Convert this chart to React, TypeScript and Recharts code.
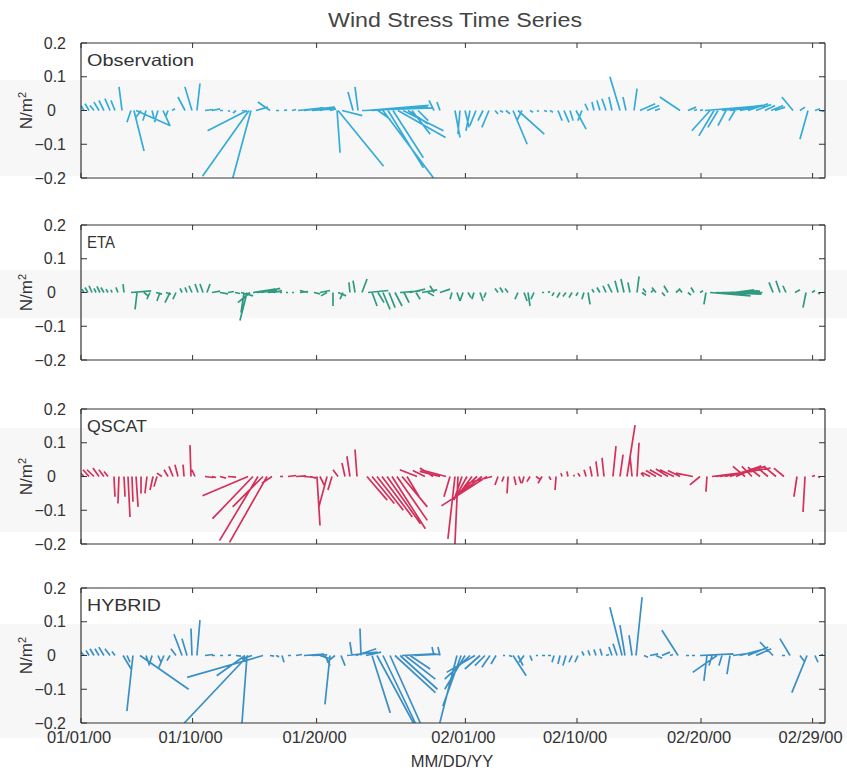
import React from 'react';
import { LineChart, Line, XAxis, YAxis } from 'recharts';

// ---------- data ----------
// x ticks (days since 01/01/00) and their labels
const tickDays = [0, 9, 19, 31, 40, 50, 59];
const tickLabels = ['01/01/00', '01/10/00', '01/20/00', '02/01/00', '02/10/00', '02/20/00', '02/29/00'];
const yTicks = [-0.2, -0.1, 0, 0.1, 0.2];
const panelNames = ['Observation', 'ETA', 'QSCAT', 'HYBRID'];

// each stick: [day, u (N/m^2), v (N/m^2)]
type Stick = [number, number, number];

const observation: Stick[] = [
  [0.24, -0.009, 0.015], [0.65, -0.012, 0.02], [1.05, -0.012, 0.015], [1.45, -0.015, 0.025], [1.85, -0.015, 0.03],
  [2.34, -0.015, 0.035], [2.74, -0.012, 0.03], [3.31, -0.009, 0.07], [4.03, -0.012, -0.035], [4.27, 0.03, -0.12],
  [4.44, 0.102, -0.045], [4.84, -0.015, -0.02], [5.24, -0.009, -0.03], [5.73, 0.009, -0.035], [6.21, -0.009, -0.03],
  [6.61, 0.021, -0.045], [7.02, -0.006, -0.015], [7.34, 0.009, 0.005], [8.39, -0.021, 0.04], [8.95, -0.021, 0.07],
  [9.35, 0.009, 0.08], [10.0, 0.024, 0.003], [10.56, 0.024, 0.005], [11.21, 0.009, 0], [11.85, 0.006, -0.003],
  [12.5, -0.009, -0.008], [12.98, 0.018, -0.005], [13.39, -0.117, -0.06], [13.55, -0.138, -0.195], [13.71, -0.054, -0.2],
  [14.11, 0.036, 0.01], [15.24, -0.036, 0.025], [15.73, 0.009, 0], [16.37, 0.009, 0.002], [17.02, 0.012, 0.003],
  [17.5, 0.075, 0.008], [17.98, 0.09, 0.01], [18.63, 0.066, 0.005], [19.27, 0.045, 0.01], [20.08, 0.018, 0.005],
  [20.65, 0.009, -0.125], [20.73, 0.135, -0.165], [21.05, 0.06, -0.015], [21.94, -0.015, 0.055], [22.34, -0.009, 0.07],
  [22.66, 0.21, 0.008], [22.98, 0.186, 0.015], [23.47, 0.165, 0.012], [23.95, 0.036, -0.025], [24.35, 0.15, -0.2],
  [24.76, 0.105, -0.17], [25.16, 0.09, -0.14], [25.56, 0.141, -0.08], [25.97, 0.12, -0.06], [26.37, 0.06, -0.04],
  [26.69, 0.054, -0.07], [27.18, 0.03, -0.03], [28.47, -0.015, 0.03], [28.95, -0.009, 0.025], [30.16, 0.015, -0.08],
  [30.56, -0.006, -0.07], [30.97, 0.012, -0.05], [31.37, -0.012, -0.06], [31.85, -0.018, -0.045], [32.42, -0.015, -0.03],
  [32.9, -0.021, -0.05], [33.39, 0.009, -0.01], [33.79, 0.009, -0.005], [34.27, 0.012, -0.01], [34.84, 0.042, -0.1],
  [35.24, 0.078, -0.07], [35.56, -0.015, -0.03], [36.21, 0.009, -0.005], [36.77, 0.006, -0.003], [37.34, 0.009, -0.003],
  [37.82, 0.009, -0.005], [38.47, 0.012, -0.03], [38.95, 0.015, -0.035], [39.44, 0.009, -0.03], [39.92, 0.03, -0.055],
  [40.4, -0.012, -0.03], [40.89, -0.009, 0.02], [41.37, -0.006, 0.025], [41.85, -0.009, 0.03], [42.34, -0.012, 0.035],
  [42.82, -0.009, 0.04], [43.47, -0.03, 0.1], [43.95, -0.009, 0.04], [44.6, 0.009, 0.065], [45.08, 0.045, 0.02],
  [45.65, 0.036, 0.015], [46.29, 0.015, 0.005], [48.31, -0.06, 0.04], [48.95, 0.024, 0.01], [49.44, 0.009, 0.003],
  [49.92, 0.009, 0.002], [50.32, 0.15, 0.012], [50.73, -0.054, -0.06], [51.05, -0.045, -0.075], [51.37, -0.03, -0.05],
  [51.69, 0.12, 0.015], [52.02, -0.024, -0.045], [52.34, 0.09, 0.012], [52.74, -0.018, -0.03], [53.15, 0.075, 0.015],
  [53.79, 0.06, 0.02], [54.44, 0.045, 0.018], [55.16, 0.03, 0.015], [55.65, 0.036, 0.015], [55.97, 0.03, 0.01],
  [57.42, -0.033, 0.04], [57.98, 0.015, 0.01], [58.63, -0.024, -0.085], [59.19, 0.015, 0.005], [59.6, 0.012, -0.003],
];

const eta: Stick[] = [
  [0.24, -0.006, 0.01], [0.56, -0.009, 0.015], [0.89, -0.009, 0.02], [1.21, -0.006, 0.012], [1.53, -0.009, 0.018],
  [1.85, -0.009, 0.015], [2.18, -0.006, 0.01], [2.5, -0.003, 0.008], [2.98, -0.006, 0.015], [3.47, -0.003, 0.025],
  [4.03, 0.06, 0.005], [4.52, -0.006, -0.05], [5.08, 0.012, -0.01], [5.56, -0.009, -0.02], [6.05, 0.018, -0.005],
  [6.37, -0.009, -0.025], [6.85, 0.015, -0.005], [7.18, -0.015, -0.03], [7.66, -0.009, -0.02], [8.15, -0.006, 0.012],
  [8.55, -0.006, 0.015], [8.95, -0.009, 0.02], [9.44, -0.009, 0.025], [9.84, -0.009, 0.025], [10.16, 0.009, 0.025],
  [10.56, 0.024, 0.004], [11.21, 0.024, -0.004], [11.85, 0.018, 0.003], [12.42, 0.015, -0.003], [12.9, 0.036, -0.01],
  [13.15, -0.009, -0.06], [13.39, -0.021, -0.083], [13.63, -0.036, -0.03], [13.87, 0.066, 0.01], [14.19, 0.06, 0.005],
  [14.6, 0.054, 0.012], [15.08, 0.036, 0.003], [15.56, 0.024, 0.006], [16.05, 0.006, 0], [16.53, 0.006, 0],
  [17.02, 0.006, 0], [17.66, 0.024, 0.003], [18.31, -0.024, 0.006], [18.79, 0.018, -0.004], [19.27, 0.03, 0.006],
  [19.84, -0.018, -0.01], [20.32, 0, -0.04], [20.73, 0.024, -0.01], [21.13, -0.009, -0.02], [21.69, -0.003, 0.03],
  [22.1, -0.006, 0.035], [22.66, 0.015, 0.04], [23.15, 0.06, 0.006], [23.47, 0.015, -0.04], [23.95, 0.018, -0.03],
  [24.35, 0.021, -0.05], [24.84, 0.018, -0.045], [25.32, 0.021, -0.04], [25.73, 0.06, 0.005], [26.05, 0.015, -0.03],
  [26.53, 0.045, 0.01], [27.02, 0.012, -0.02], [27.5, 0.045, 0.008], [27.98, 0.018, -0.01], [28.47, -0.012, 0.02],
  [28.95, 0.03, 0.01], [29.92, -0.006, -0.02], [30.32, 0.009, -0.025], [30.81, -0.009, -0.025], [31.21, 0.009, -0.015],
  [31.69, -0.006, -0.02], [32.18, 0.009, -0.025], [32.66, -0.006, -0.015], [33.63, -0.009, 0.012], [34.03, -0.009, 0.015],
  [34.44, -0.009, 0.012], [35.24, -0.009, -0.02], [35.73, 0.009, -0.025], [36.05, 0.006, -0.04], [36.53, -0.009, -0.02],
  [37.18, 0.006, 0], [37.66, 0.006, 0.003], [38.15, -0.006, -0.01], [38.63, -0.009, -0.015], [39.11, -0.009, -0.012],
  [39.6, -0.009, -0.015], [40.08, -0.006, -0.01], [40.56, -0.006, -0.02], [40.89, 0.006, -0.035], [41.37, -0.006, 0.01],
  [41.85, -0.009, 0.015], [42.34, -0.009, 0.02], [42.82, -0.012, 0.025], [43.31, -0.009, 0.035], [43.79, -0.009, 0.04],
  [44.27, -0.006, 0.03], [44.84, 0.006, 0.048], [45.24, 0.012, -0.008], [45.56, -0.009, 0.012], [45.97, 0.009, 0.01],
  [46.37, -0.012, 0.015], [46.85, 0.009, -0.01], [47.34, -0.012, 0.02], [47.98, 0.009, 0.008], [48.47, -0.009, 0.012],
  [48.95, 0.009, -0.008], [49.44, -0.009, 0.015], [49.92, 0.009, 0.005], [50.4, -0.006, -0.035], [50.73, 0.12, -0.01],
  [51.21, 0.135, -0.005], [51.69, 0.12, 0], [52.18, 0.09, 0.005], [52.66, 0.06, 0.008], [53.31, 0.045, 0.005],
  [53.95, 0.03, 0.004], [55.81, -0.012, 0.03], [56.37, -0.012, 0.035], [56.85, -0.009, 0.02], [57.58, 0.015, 0.008],
  [58.47, -0.009, -0.045], [58.95, 0.009, 0.006], [59.44, 0.006, -0.005],
];

const qscat: Stick[] = [
  [0.24, -0.015, 0.015], [0.65, -0.018, 0.02], [1.05, -0.021, 0.02], [1.45, -0.018, 0.025], [1.85, -0.015, 0.02],
  [2.18, -0.012, 0.015], [2.66, 0.003, -0.06], [3.06, -0.003, -0.08], [3.47, 0.003, -0.06], [3.79, 0.006, -0.12],
  [4.11, 0.003, -0.075], [4.44, 0.006, -0.09], [4.84, 0, -0.05], [5.32, -0.006, -0.05], [5.81, -0.009, -0.04],
  [6.13, -0.009, -0.03], [6.53, -0.015, 0.01], [7.02, -0.012, 0.02], [7.42, -0.012, 0.03], [7.82, -0.009, 0.035],
  [8.31, -0.003, 0.035], [8.87, -0.003, 0.093], [9.19, -0.009, 0.02], [10.0, 0.024, -0.003], [10.56, 0.012, -0.003],
  [11.21, 0.018, -0.005], [11.85, 0.024, -0.002], [13.47, -0.135, -0.057], [13.87, -0.12, -0.125], [14.27, -0.114, -0.19],
  [14.68, -0.09, -0.09], [15.0, -0.111, -0.195], [15.4, -0.03, -0.02], [16.05, 0.009, 0], [16.69, 0.024, 0.003],
  [17.34, 0.03, 0.002], [17.98, 0.036, -0.003], [18.47, 0.018, -0.005], [19.03, 0.009, -0.145], [19.27, 0.015, -0.03],
  [19.84, -0.024, -0.09], [20.24, -0.012, -0.04], [20.73, -0.015, 0.02], [21.29, -0.009, 0.04], [21.69, -0.009, 0.06],
  [22.26, -0.006, 0.08], [23.06, 0.06, -0.07], [23.47, 0.066, -0.08], [23.87, 0.078, -0.1], [24.27, 0.09, -0.12],
  [24.68, 0.099, -0.14], [25.08, 0.099, -0.155], [25.48, 0.09, -0.13], [25.89, 0.075, -0.09], [26.29, 0.036, -0.06],
  [27.1, -0.051, 0.02], [27.74, -0.036, 0.018], [28.39, -0.039, 0.025], [28.95, -0.06, 0.015], [29.44, -0.075, 0.02],
  [29.76, -0.018, -0.06], [30.16, -0.021, -0.185], [30.4, -0.009, -0.2], [30.73, -0.024, -0.07], [31.13, -0.036, -0.065],
  [31.53, -0.045, -0.06], [31.94, -0.06, -0.055], [32.34, -0.066, -0.05], [32.74, -0.135, -0.087], [33.15, -0.075, -0.02],
  [33.63, -0.009, -0.025], [34.11, -0.006, -0.015], [34.44, -0.003, -0.05], [34.92, 0.006, -0.025], [35.32, 0.006, -0.02],
  [35.73, -0.006, -0.02], [36.21, -0.009, -0.015], [36.69, 0.015, -0.01], [37.18, -0.012, -0.02], [37.74, 0.006, -0.01],
  [38.31, -0.003, -0.04], [38.79, -0.003, 0.01], [39.27, -0.003, 0.015], [39.76, 0, 0.005], [40.24, -0.006, 0.01],
  [40.73, -0.006, 0.02], [41.21, -0.006, 0.03], [41.69, -0.006, 0.045], [42.18, -0.006, 0.055], [42.9, 0.009, 0.09],
  [43.47, 0.009, 0.065], [44.03, 0.024, 0.152], [44.44, -0.006, 0.06], [44.84, 0.006, 0.1], [45.4, -0.009, 0.01],
  [45.89, -0.024, 0.012], [46.37, -0.03, 0.018], [46.85, -0.036, 0.02], [47.34, -0.036, 0.022], [47.82, -0.042, 0.02],
  [48.31, -0.036, 0.018], [49.35, -0.051, 0.01], [49.92, -0.03, -0.025], [50.48, -0.003, -0.045], [50.89, 0.12, 0.015],
  [51.21, 0.135, 0.02], [51.53, 0.15, 0.025], [51.94, 0.12, 0.03], [52.34, 0.09, 0.03], [52.82, 0.075, 0.032],
  [53.55, -0.036, 0.03], [54.11, -0.03, 0.03], [54.76, -0.036, 0.028], [55.4, -0.03, 0.025], [56.05, -0.036, 0.03],
  [56.69, -0.03, 0.025], [57.74, -0.009, -0.06], [58.39, -0.006, -0.105], [58.95, 0.009, 0.003], [59.44, 0.006, -0.003],
];

const hybrid: Stick[] = [
  [0.24, -0.009, 0.01], [0.65, -0.009, 0.015], [1.05, -0.012, 0.02], [1.45, -0.012, 0.02], [1.85, -0.015, 0.025],
  [2.34, -0.015, 0.02], [2.74, -0.009, 0.012], [3.39, 0.024, -0.04], [3.71, 0.009, -0.02], [4.19, -0.018, -0.165],
  [4.76, 0.144, -0.1], [5.24, 0.009, -0.025], [5.73, -0.009, -0.03], [6.21, 0.009, -0.02], [6.69, -0.015, -0.035],
  [7.18, -0.009, -0.015], [7.66, -0.015, 0.02], [8.15, -0.024, 0.063], [8.55, -0.015, 0.05], [8.95, -0.003, 0.08],
  [9.35, 0.009, 0.105], [10.0, 0.024, 0.003], [10.56, 0.009, 0], [11.21, 0.009, 0], [11.85, 0.009, 0.002],
  [12.5, 0.015, -0.002], [13.23, -0.084, -0.06], [13.39, -0.015, -0.2], [13.47, -0.189, -0.2], [13.79, -0.03, -0.01],
  [14.68, -0.225, -0.065], [15.24, 0.012, -0.002], [15.73, 0.009, -0.004], [16.21, 0.006, -0.02], [16.69, 0.009, 0],
  [17.34, 0.018, 0.003], [17.98, 0.06, 0.004], [18.63, 0.045, 0.002], [19.27, 0.03, -0.01], [19.68, 0.015, -0.03],
  [20.08, -0.015, -0.145], [20.48, -0.024, -0.02], [20.97, 0.012, -0.03], [21.45, 0.09, 0.01], [21.85, -0.006, 0.04],
  [22.18, 0.06, 0.02], [22.58, -0.003, 0.08], [22.98, 0.045, 0.01], [23.47, 0.054, -0.17], [23.87, 0.108, -0.2],
  [24.35, 0.096, -0.2], [24.92, 0.09, -0.2], [25.32, 0.12, -0.11], [25.73, 0.111, -0.1], [25.89, 0.099, 0.005],
  [26.13, 0.09, -0.07], [26.53, 0.06, -0.04], [26.94, 0.075, 0.004], [28.47, -0.006, 0.025], [28.95, -0.006, 0.025],
  [30.32, -0.051, -0.2], [30.65, -0.054, -0.15], [30.97, -0.06, -0.1], [31.37, -0.075, -0.07], [31.77, -0.084, -0.05],
  [32.18, -0.045, -0.04], [32.58, -0.03, -0.03], [32.98, -0.024, -0.035], [33.47, -0.015, -0.025], [34.03, 0.006, 0],
  [34.52, 0.009, -0.003], [34.84, 0.039, -0.06], [35.24, 0.015, -0.03], [35.73, -0.015, -0.02], [36.21, 0.006, -0.015],
  [36.69, 0.006, 0], [37.18, 0.009, 0], [37.66, 0.009, 0], [38.15, -0.006, -0.02], [38.63, -0.006, -0.025],
  [39.11, -0.009, -0.03], [39.6, -0.009, -0.02], [40.08, -0.009, -0.02], [40.56, -0.006, 0.012], [41.05, -0.006, 0.015],
  [41.53, -0.006, 0.018], [42.02, -0.006, 0.02], [42.34, 0.009, 0.003], [42.82, -0.009, 0.025], [43.23, -0.012, 0.035],
  [43.63, -0.036, 0.143], [43.87, -0.015, 0.09], [44.44, -0.009, 0.06], [44.76, 0.018, 0.173], [45.4, 0.012, -0.005],
  [45.89, 0.024, 0.005], [46.37, 0.018, -0.008], [46.85, 0.024, 0.01], [47.5, 0.009, 0.003], [48.15, -0.048, 0.075],
  [48.79, 0.009, 0], [49.27, 0.009, 0], [49.92, 0.099, 0.005], [50.48, -0.009, -0.075], [50.89, -0.009, -0.03],
  [51.29, -0.072, -0.05], [51.69, -0.009, -0.03], [52.34, -0.009, -0.055], [52.58, 0.075, 0.01], [53.15, 0.075, 0.02],
  [53.79, 0.06, 0.025], [54.44, 0.045, 0.02], [55.81, -0.039, 0.04], [56.53, 0.009, 0], [57.18, -0.03, 0.05],
  [57.98, 0.015, -0.02], [58.55, -0.045, -0.11], [59.19, 0.009, -0.02], [59.6, 0.009, 0.003],
];

// ---------- layout / style ----------
const FONT = "'Liberation Sans', Arial, Helvetica, sans-serif";
const W = 847;
const PLOT_H = 135;
const panelTops = [43, 225, 409, 588];
const colors = ['#35abd8', '#2f9a80', '#d3305a', '#3a8fc4'];
const labelLengths = [107, 28, 60, 74];
const bands: [number, number][] = [[80, 176], [270, 318], [428, 532], [624, 738]];
// horizontal days per N/m^2 so that sticks keep their true direction
const DAYS_PER_UNIT = 27.2;

function toSegments(sticks: Stick[]) {
  const rows: { x: number; y: number | null }[] = [];
  sticks.forEach(([t, u, v]) => {
    const tipX = t + u * DAYS_PER_UNIT;
    rows.push({ x: t, y: 0 });
    rows.push({ x: tipX, y: v });
    rows.push({ x: tipX, y: null });
  });
  return rows;
}

const Empty = () => <g />;

const YTick = (props: any) => {
  const { x, y, payload } = props;
  const v = payload.value;
  const label = v === 0 ? '0' : (v < 0 ? '\u2212' : '') + Math.abs(v).toFixed(1);
  return (
    <text x={v === 0 ? x - 10 : x} y={y} dy={5.5} textAnchor="end" fontSize={16} fill="#333" fontFamily={FONT}>
      {label}
    </text>
  );
};

const XTick = (props: any) => {
  const { x, y, payload } = props;
  const idx = tickDays.indexOf(payload.value);
  return (
    <text x={x - 2} y={y} dy={12} textAnchor="middle" fontSize={16.5} fill="#333" fontFamily={FONT}>
      {tickLabels[idx]}
    </text>
  );
};

const axisLine = { stroke: '#333', strokeWidth: 1.2 };
const tickLine = { stroke: '#333', strokeWidth: 1 };

function Panel({ sticks, color, top, showLabels }: { sticks: Stick[]; color: string; top: number; showLabels: boolean }) {
  const data = toSegments(sticks);
  return (
    <div style={{ position: 'absolute', left: 0, top: top - 10 }}>
      <LineChart width={W} height={PLOT_H + 40} data={data} margin={{ top: 9, right: 21, bottom: 0, left: 0 }}>
        <XAxis
          xAxisId="t"
          orientation="top"
          type="number"
          dataKey="x"
          domain={[0, 60]}
          allowDataOverflow
          ticks={tickDays}
          interval={0}
          height={1}
          tickSize={-5}
          tick={Empty}
          axisLine={axisLine}
          tickLine={tickLine}
        />
        <XAxis
          xAxisId="b"
          orientation="bottom"
          type="number"
          dataKey="x"
          domain={[0, 60]}
          allowDataOverflow
          ticks={tickDays}
          interval={0}
          height={30}
          tickSize={-5}
          tickMargin={13}
          tick={showLabels ? XTick : Empty}
          axisLine={axisLine}
          tickLine={tickLine}
        />
        <YAxis
          yAxisId="l"
          orientation="left"
          type="number"
          domain={[-0.2, 0.2]}
          allowDataOverflow
          ticks={yTicks}
          interval={0}
          width={81}
          tickSize={-6}
          tickMargin={21}
          tick={YTick}
          axisLine={axisLine}
          tickLine={tickLine}
        />
        <YAxis
          yAxisId="r"
          orientation="right"
          type="number"
          domain={[-0.2, 0.2]}
          allowDataOverflow
          ticks={yTicks}
          interval={0}
          width={1}
          tickSize={-6}
          tick={Empty}
          axisLine={axisLine}
          tickLine={tickLine}
        />
        <Line
          xAxisId="b"
          yAxisId="l"
          type="linear"
          dataKey="y"
          stroke={color}
          strokeWidth={1.7}
          dot={false}
          activeDot={false}
          connectNulls={false}
          isAnimationActive={false}
        />
      </LineChart>
    </div>
  );
}

const allSticks = [observation, eta, qscat, hybrid];

export default function App() {
  return (
    <div style={{ position: 'absolute', left: 0, top: 0, width: W, height: 772, background: '#fff', overflow: 'hidden' }}>
      <svg width={W} height={772} style={{ position: 'absolute', left: 0, top: 0 }}>
        {bands.map(([a, b], i) => (
          <rect key={i} x={0} y={a} width={W} height={b - a} fill="#f7f7f7" />
        ))}
      </svg>
      {allSticks.map((s, i) => (
        <Panel key={i} sticks={s} color={colors[i]} top={panelTops[i]} showLabels={i === 3} />
      ))}
      <svg width={W} height={772} style={{ position: 'absolute', left: 0, top: 0, pointerEvents: 'none' }}>
        <text x={455} y={27} textAnchor="middle" fontSize={20} fill="#444" fontFamily={FONT} textLength={254} lengthAdjust="spacingAndGlyphs">
          Wind Stress Time Series
        </text>
        {panelNames.map((n, i) => (
          <text key={n} x={87} y={panelTops[i] + 23} fontSize={16.5} fill="#333" fontFamily={FONT} textLength={labelLengths[i]} lengthAdjust="spacingAndGlyphs">
            {n}
          </text>
        ))}
        {panelTops.map((t, i) => {
          const cy = t + PLOT_H / 2;
          return (
            <text key={i} x={32} y={cy} transform={`rotate(-90, 32, ${cy})`} textAnchor="middle" fontSize={17} fill="#333" fontFamily={FONT}>
              N/m<tspan dy={-6} fontSize={11}>2</tspan>
            </text>
          );
        })}
        <text x={452} y={767} textAnchor="middle" fontSize={16.5} fill="#333" fontFamily={FONT}>
          MM/DD/YY
        </text>
      </svg>
    </div>
  );
}
